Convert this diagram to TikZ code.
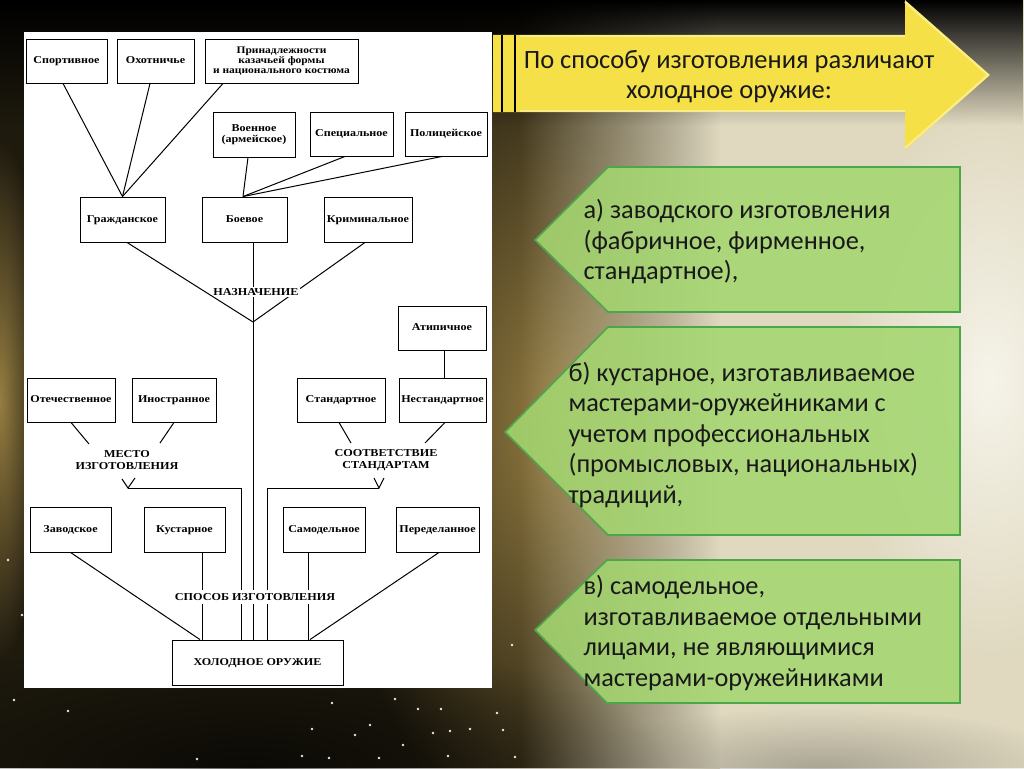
\documentclass[tikz,border=0pt]{standalone}
\usepackage{fontspec}
\setmainfont{Carlito}
\newfontfamily\dfont[FakeStretch=1.15]{Liberation Serif}
\usetikzlibrary{calc,fadings}
\tikzfading[name=softc, inner color=transparent!0, outer color=transparent!100]
\definecolor{bgdark}{RGB}{30,26,14}
\definecolor{cream}{RGB}{224,217,192}
\definecolor{whitish}{RGB}{246,244,234}
\definecolor{goldbr}{RGB}{150,126,66}
\definecolor{ylw}{RGB}{246,224,72}
\definecolor{ylwlt}{RGB}{250,238,140}
\definecolor{grn}{RGB}{164,214,112}
\definecolor{grnline}{RGB}{74,168,74}
\definecolor{txt}{RGB}{25,25,25}
\tikzset{
  box/.style={draw=black, line width=0.9pt, fill=white, align=center, inner sep=1pt,
     font=\dfont\bfseries\fontsize{10.5}{11}\selectfont},
  box1/.style={box, text height=7.5pt, text depth=2.5pt},
  lbl/.style={fill=white, align=center, inner sep=1.5pt,
     font=\dfont\bfseries\fontsize{10.6}{12.5}\selectfont},
  conn/.style={line width=1pt, black},
  callout/.style={fill=grn, fill opacity=0.88, draw=grnline, line width=1.6pt},
  ctext/.style={anchor=west, align=left, text=txt, font=\fontsize{26.3}{30.5}\selectfont}
}
\begin{document}
\begin{tikzpicture}[x=1pt,y=-1pt]
\useasboundingbox (0,0) rectangle (1024,768);
% ---------- background ----------
\fill[bgdark] (0,0) rectangle (1024,768);
\begin{scope}
\clip (0,0) rectangle (1024,768);
\fill[goldbr, path fading=softc] (560,420) ellipse (230 and 440);
\fill[cream, path fading=west] (520,0) rectangle (720,768);
\fill[cream] (719.5,0) rectangle (1024,768);
\fill[whitish, path fading=softc] (990,380) ellipse (150 and 280);
\fill[goldbr, path fading=softc] (0,400) ellipse (45 and 260);
\fill[black, path fading=south] (0,0) rectangle (1024,125);
\fill[black, opacity=0.6, path fading=softc] (250,768) ellipse (420 and 130);
\fill[gray!60!bgdark, opacity=0.4, path fading=softc] (820,768) ellipse (260 and 60);
\foreach \p in {(22,615),(68,711),(332,703),(395,699),(312,729),(370,725),(355,735),(418,709),(441,709),(497,713),(433,733),(450,731),(470,729),(503,730),(403,745),(302,756),(329,758),(379,758),(448,756),(197,759),(512,645),(515,757),(8,560),(14,700)}
  \fill[white, opacity=0.9] \p circle (1.4);
\end{scope}
% ---------- white panel ----------
\fill[white] (24,32) rectangle (492,688);
% ---------- yellow header arrow ----------
\fill[ylw] (493,35) -- (905,35) -- (905,0) -- (990,75) -- (905,150) -- (905,112) -- (493,112) -- cycle;
\draw[ylwlt, line width=2pt] (905,2) -- (988,75) -- (905,148);
\draw[ylwlt, line width=1.5pt] (520,36) -- (905,36) (520,111) -- (905,111);
\draw[black, line width=2.4pt] (502,35) -- (502,112);
\draw[black, line width=2.4pt] (515,35) -- (515,112);
\node[align=center, text=txt, font=\fontsize{26.5}{30}\selectfont] (head) at (729,77)
  {По способу изготовления различают\\холодное оружие:};
% ---------- green callouts ----------
\fill[callout] (535,240) -- (608,167) -- (960,167) -- (960,312) -- (608,312) -- cycle;
\node[ctext] (ca) at (580,242) {а) заводского изготовления\\(фабричное, фирменное,\\стандартное),};
\fill[callout] (505,432) -- (608,327) -- (960,327) -- (960,535) -- (608,535) -- cycle;
\node[ctext] (cb) at (565,435) {б) кустарное, изготавливаемое\\мастерами-оружейниками с\\учетом профессиональных\\(промысловых, национальных)\\традиций,};
\fill[callout] (535,630) -- (607,560) -- (960,560) -- (960,703) -- (607,703) -- cycle;
\node[ctext] (cc) at (580,633) {в) самодельное,\\изготавливаемое отдельными\\лицами, не являющимися\\мастерами-оружейниками};
% ---------- diagram nodes ----------
\node[box1, minimum width=81pt, minimum height=44pt] (sport) at (66.5,61) {Спортивное};
\node[box1, minimum width=77pt, minimum height=44pt] (hunt) at (155.5,61) {Охотничье};
\node[box, minimum width=153pt, minimum height=44pt, font=\dfont\bfseries\fontsize{10}{10}\selectfont] (prin) at (281.5,61) {Принадлежности\\казачьей формы\\и национального костюма};
\node[box, minimum width=82pt, minimum height=45pt] (voen) at (254,134.5) {Военное\\(армейское)};
\node[box1, minimum width=83pt, minimum height=44pt] (spec) at (351.5,134) {Специальное};
\node[box1, minimum width=82pt, minimum height=44pt] (police) at (446,134) {Полицейское};
\node[box1, minimum width=85pt, minimum height=45pt] (grazh) at (122.5,219.5) {Гражданское};
\node[box1, minimum width=85pt, minimum height=45pt] (boev) at (244.5,219.5) {Боевое};
\node[box1, minimum width=88pt, minimum height=45pt] (crim) at (368,219.5) {Криминальное};
\node[box1, minimum width=88pt, minimum height=44pt] (atyp) at (442,328) {Атипичное};
\node[box1, minimum width=88pt, minimum height=44pt] (otech) at (71,400) {Отечественное};
\node[box1, minimum width=84pt, minimum height=44pt] (inostr) at (174,400) {Иностранное};
\node[box1, minimum width=88pt, minimum height=44pt] (stand) at (341,400) {Стандартное};
\node[box1, minimum width=87pt, minimum height=44pt] (nestand) at (442.5,400) {Нестандартное};
\node[box1, minimum width=81pt, minimum height=45pt] (zavod) at (70.5,529.5) {Заводское};
\node[box1, minimum width=81pt, minimum height=45pt] (kust) at (184.5,529.5) {Кустарное};
\node[box1, minimum width=82pt, minimum height=45pt] (samod) at (324,529.5) {Самодельное};
\node[box1, minimum width=83pt, minimum height=45pt] (pered) at (437.5,529.5) {Переделанное};
\node[box1, minimum width=171pt, minimum height=45pt] (holod) at (257.5,662.5) {ХОЛОДНОЕ ОРУЖИЕ};
% ---------- coordinates ----------
\coordinate (naz) at (253,322);
\coordinate (mesto) at (128,488);
\coordinate (mv1) at (122,479);
\coordinate (mv2) at (135,478);
\coordinate (lstem) at (241,488);
\coordinate (soot) at (379,488);
\coordinate (sv1) at (374,478);
\coordinate (sv2) at (384,478);
\coordinate (rstem) at (267.5,488);
\coordinate (oe) at (89,444);
\coordinate (ie) at (160,443);
\coordinate (se) at (351,443);
\coordinate (ne) at (425,443);
% ---------- connectors (top) ----------
\draw[conn] ([xshift=-3.5pt]sport.south) -- (grazh.north);
\draw[conn] ([xshift=-5.5pt]hunt.south) -- (grazh.north);
\draw[conn] ([xshift=-58.5pt]prin.south) -- (grazh.north);
\draw[conn] ([xshift=-6pt]voen.south) -- ([xshift=-1.5pt]boev.north);
\draw[conn] ([xshift=-6.5pt]spec.south) -- ([xshift=-1.5pt]boev.north);
\draw[conn] ([xshift=-4pt]police.south) -- ([xshift=-1.5pt]boev.north);
\draw[conn] ([xshift=8.5pt]boev.south) -- (naz);
\draw[conn] ([xshift=-3pt]crim.south) -- (naz);
\node[lbl] (nazl) at (256,292) {НАЗНАЧЕНИЕ};
\draw[conn] ([xshift=4.5pt]grazh.south) -- (naz);
\draw[conn] ([xshift=2pt]atyp.south) -- ([xshift=1.5pt]nestand.north);
\draw[conn] (otech.south) -- (oe);
\draw[conn] (inostr.south) -- (ie);
\draw[conn] ([xshift=-2pt]stand.south) -- (se);
\draw[conn] ([xshift=2.5pt]nestand.south) -- (ne);
\node[lbl, fill=none] (mestol) at (127,460) {МЕСТО\\ИЗГОТОВЛЕНИЯ};
\node[lbl, fill=none] (sootl) at (386,460) {СООТВЕТСТВИЕ\\СТАНДАРТАМ};
\draw[conn] (mv1) -- (mesto) -- (mv2);
\draw[conn] (sv1) -- (soot) -- (sv2);
% ---------- connectors (bottom) ----------
\draw[conn] (naz) -- (naz |- holod.north);
\draw[conn] (mesto) -- (lstem) -- (lstem |- holod.north);
\draw[conn] (soot) -- (rstem) -- (rstem |- holod.north);
\draw[conn] ([xshift=17.5pt]kust.south) -- ([xshift=17.5pt]kust.south |- holod.north);
\draw[conn] ([xshift=-16pt]samod.south) -- ([xshift=-16pt]samod.south |- holod.north);
\draw[conn] (zavod.south) -- ([xshift=-57.5pt]holod.north);
\draw[conn] ([xshift=1.5pt]pered.south) -- ([xshift=52.5pt]holod.north);
\node[lbl, inner sep=3pt] (sposl) at (255,597) {СПОСОБ ИЗГОТОВЛЕНИЯ};
\end{tikzpicture}
\end{document}
